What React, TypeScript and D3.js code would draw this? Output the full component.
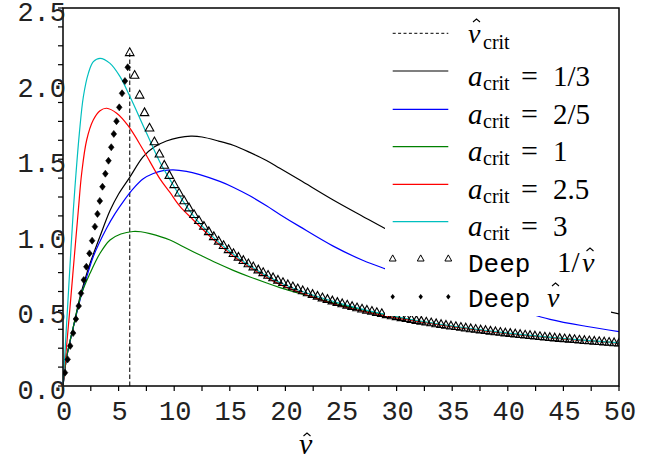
import React from "react";
import * as d3 from "d3";

const xTicks = [0, 5, 10, 15, 20, 25, 30, 35, 40, 45, 50];
const yTicks = [0, 0.5, 1.0, 1.5, 2.0, 2.5];
const yTickLabels = ["0.0", "0.5", "1.0", "1.5", "2.0", "2.5"];

const nuCrit = 6.0;
const nuCritTop = 2.2;

const blackPts: [number, number][] = [[0,0],[0.33,0.19],[0.93,0.39],[1.53,0.59],[2.0,0.71],[2.43,0.81],[3.33,0.99],[4.23,1.16],[5.0,1.27],[6.0,1.38],[7.2,1.515],[8.2,1.58],[9.3,1.62],[10.4,1.643],[11.5,1.652],[12.5,1.647],[14.0,1.62],[15.3,1.592],[16.8,1.545],[18.3,1.492],[19.5,1.44],[21.3,1.362],[24.3,1.23],[27.0,1.12],[29.0,1.04],[33,0.89],[37,0.76],[41,0.655],[45,0.565],[50,0.477]];
const bluePts: [number, number][] = [[0,0],[0.33,0.19],[0.93,0.39],[1.68,0.61],[2.13,0.72],[2.72,0.855],[3.93,1.045],[4.68,1.14],[5.42,1.22],[6.32,1.305],[7.22,1.37],[8.12,1.405],[9.0,1.424],[9.9,1.43],[11.1,1.42],[12.3,1.398],[14.1,1.353],[15.3,1.315],[16.8,1.258],[18.3,1.192],[19.5,1.135],[21.3,1.054],[24.3,0.925],[27,0.83],[29,0.775],[32,0.70],[35,0.63],[38,0.565],[41,0.50],[43.8,0.441],[47,0.395],[50,0.36]];
const greenPts: [number, number][] = [[0,0],[0.33,0.194],[0.93,0.392],[1.68,0.613],[2.43,0.745],[3.33,0.878],[4.23,0.966],[5.2,1.005],[6.3,1.022],[7.0,1.02],[7.82,1.008],[9.62,0.966],[10.82,0.921],[12.32,0.866],[13.82,0.813],[15.31,0.765],[16.82,0.721],[18.32,0.681],[19.51,0.651],[21.31,0.612],[25,0.537],[30,0.455],[35,0.394],[40,0.348],[45,0.313],[50,0.285]];
const redPts: [number, number][] = [[0,0],[0.63,0.52],[1.0,0.84],[1.38,1.164],[1.68,1.407],[2.13,1.627],[2.72,1.759],[3.33,1.821],[3.93,1.837],[4.83,1.804],[5.87,1.72],[7.22,1.561],[8.72,1.37],[9.62,1.28],[10.5,1.19],[11.72,1.098],[13.5,0.97],[15.31,0.86],[17,0.777],[19.5,0.672],[22,0.60],[25,0.528],[30,0.45],[35,0.393],[40,0.347],[45,0.312],[50,0.284]];
const cyanPts: [number, number][] = [[0,0],[0.3,0.38],[0.6,0.76],[0.93,1.164],[1.17,1.407],[1.47,1.671],[1.83,1.913],[2.28,2.068],[2.73,2.145],[3.33,2.167],[4.23,2.134],[5.13,2.046],[6.03,1.913],[7.53,1.67],[8.72,1.48],[9.62,1.365],[10.82,1.22],[12,1.10],[13.5,0.985],[15,0.89],[17,0.785],[20,0.668],[25,0.545],[30,0.458],[35,0.397],[40,0.35],[45,0.314],[50,0.285]];

const triX = [6.00,6.44,6.89,7.33,7.78,8.22,8.67,9.11,9.56,10.00,10.44,10.89,11.33,11.78,12.22,12.67,13.11,13.56,14.00,14.44,14.89,15.33,15.78,16.22,16.67,17.11,17.56,18.00,18.44,18.89,19.33,19.78,20.22,20.67,21.11,21.56,22.00,22.44,22.89,23.33,23.78,24.22,24.67,25.11,25.56,26.00,26.44,26.89,27.33,27.78,28.22,28.67,29.11,29.56,30.00,30.44,30.89,31.33,31.78,32.22,32.67,33.11,33.56,34.00,34.44,34.89,35.33,35.78,36.22,36.67,37.11,37.56,38.00,38.44,38.89,39.33,39.78,40.22,40.67,41.11,41.56,42.00,42.44,42.89,43.33,43.78,44.22,44.67,45.11,45.56,46.00,46.44,46.89,47.33,47.78,48.22,48.67,49.11,49.56,50.00];
const triY = [2.208,2.058,1.927,1.811,1.709,1.618,1.537,1.463,1.396,1.335,1.279,1.228,1.181,1.137,1.097,1.059,1.024,0.991,0.961,0.932,0.905,0.879,0.855,0.833,0.811,0.791,0.771,0.753,0.735,0.719,0.703,0.687,0.673,0.659,0.646,0.633,0.620,0.609,0.597,0.586,0.576,0.566,0.556,0.547,0.538,0.529,0.520,0.512,0.504,0.497,0.489,0.482,0.475,0.468,0.462,0.455,0.449,0.443,0.437,0.432,0.426,0.421,0.415,0.410,0.405,0.400,0.396,0.391,0.387,0.382,0.378,0.374,0.370,0.366,0.362,0.358,0.354,0.351,0.347,0.344,0.340,0.337,0.334,0.330,0.327,0.324,0.321,0.318,0.315,0.313,0.310,0.307,0.304,0.302,0.299,0.297,0.294,0.292,0.289,0.287];

const diaX = [0.18,0.42,0.65,0.91,1.16,1.41,1.62,1.87,2.10,2.38,2.62,2.87,3.10,3.31,3.55,3.81,4.09,4.34,4.57,4.81,5.06,5.31,5.57,5.82];
const diaY = [0.088,0.176,0.265,0.350,0.443,0.529,0.613,0.701,0.789,0.877,0.961,1.054,1.138,1.224,1.318,1.404,1.490,1.579,1.667,1.751,1.843,1.936,2.017,2.108];

const curveSeries = [
  { pts: blackPts, color: "#000000", label: "1/3" },
  { pts: bluePts, color: "#0000ff", label: "2/5" },
  { pts: greenPts, color: "#008000", label: "1" },
  { pts: redPts, color: "#ff0000", label: "2.5" },
  { pts: cyanPts, color: "#00bfbf", label: "3" },
];

const W = 660, H = 464;
const L = 63, R = 619, T = 8, B = 386;

const tri = (cx: number, cy: number, s: number) =>
  `M${cx},${cy - s}L${cx + s * 1.0},${cy + s * 0.8}L${cx - s * 1.0},${cy + s * 0.8}Z`;
const dia = (cx: number, cy: number, w: number, h: number) =>
  `M${cx},${cy - h}L${cx + w},${cy}L${cx},${cy + h}L${cx - w},${cy}Z`;

const Hat = ({ x, y }: { x: number; y: number }) => (
  <path d={`M${x - 3.5},${y + 3}L${x},${y}L${x + 3.5},${y + 3}`} fill="none" stroke="#000" strokeWidth={1.1} />
);

export default function App() {
  const x = d3.scaleLinear().domain([0, 50]).range([L, R]);
  const y = d3.scaleLinear().domain([0, 2.5]).range([B, T]);
  const line = d3.line<[number, number]>().x(d => x(d[0])).y(d => y(d[1])).curve(d3.curveCatmullRom.alpha(0.5));
  const xMinor = d3.range(0, 50.01, 2.5);
  const yMinor = d3.range(0, 2.501, 0.125);

  const legX0 = 392.7, legX1 = 448.3, legXm = 420.7;
  const rowY = [33.3, 71, 109.3, 146.7, 184.3, 221.7, 258.3, 296.7];
  const serif = "'Liberation Serif', 'DejaVu Serif', serif";
  const mono = "'Liberation Mono', 'DejaVu Sans Mono', monospace";

  return (
    <svg width={W} height={H} style={{ position: "fixed", left: 0, top: 0, background: "#fff" }}>
      <defs>
        <clipPath id="plot"><rect x={L} y={T} width={R - L} height={B - T} /></clipPath>
      </defs>
      <rect x={0} y={0} width={W} height={H} fill="#fff" />
      <g clipPath="url(#plot)">
        <line x1={x(nuCrit)} x2={x(nuCrit)} y1={y(0)} y2={y(nuCritTop)} stroke="#222" strokeWidth={1.2} strokeDasharray="4.5,2.5" />
        {curveSeries.map((s, i) => (
          <path key={i} d={line(s.pts) || ""} fill="none" stroke={s.color} strokeWidth={1.2} />
        ))}
        {triX.map((tx, i) => (
          <path key={"t" + i} d={tri(x(tx), y(triY[i]), 4.3)} fill="none" stroke="#000" strokeWidth={1.1} />
        ))}
        {diaX.map((dx, i) => (
          <path key={"d" + i} d={dia(x(dx), y(diaY[i]), 2.8, 3.5)} fill="#000" stroke="#000" strokeWidth={0.6} />
        ))}
      </g>
      {/* legend */}
      <rect x={385} y={9} width={226} height={307} fill="#fff" />
      <line x1={legX0} x2={legX1} y1={rowY[0]} y2={rowY[0]} stroke="#000" strokeWidth={1} strokeDasharray="3,2.4" />
      <text x={468} y={43.3} fontFamily={serif} fontStyle="italic" fontSize={28}>ν</text>
      <Hat x={476.5} y={19} />
      <text x={483} y={48.5} fontFamily={serif} fontSize={20}>crit</text>
      {curveSeries.map((s, i) => {
        const ly = rowY[i + 1];
        const by = ly + 14.5;
        return (
          <g key={"lg" + i}>
            <line x1={legX0} x2={legX1} y1={ly} y2={ly} stroke={s.color} strokeWidth={1.2} />
            <text x={468} y={by} fontFamily={serif} fontStyle="italic" fontSize={29}>a</text>
            <text x={483} y={by + 4} fontFamily={serif} fontSize={20}>crit</text>
            <text x={521} y={by} fontFamily={serif} fontSize={30}>=</text>
            <text x={553} y={by} fontFamily={serif} fontSize={29}>{s.label}</text>
          </g>
        );
      })}
      {[legX0, legXm, legX1].map((lx, i) => (
        <path key={"lt" + i} d={tri(lx, rowY[6], 3.4)} fill="none" stroke="#000" strokeWidth={1} />
      ))}
      <text x={468} y={271.7} fontFamily={mono} fontSize={26}>Deep</text>
      <text x={557} y={271.7} fontFamily={serif} fontSize={29}>1/</text>
      <text x={582} y={271.7} fontFamily={serif} fontStyle="italic" fontSize={28}>ν</text>
      <Hat x={590} y={248} />
      {[legX0, legXm, legX1].map((lx, i) => (
        <path key={"ld" + i} d={dia(lx, rowY[7], 2.2, 2.8)} fill="#000" />
      ))}
      <text x={468} y={306.7} fontFamily={mono} fontSize={26}>Deep</text>
      <text x={547} y={306.7} fontFamily={serif} fontStyle="italic" fontSize={28}>ν</text>
      <Hat x={555.5} y={283} />

      {/* frame */}
      <rect x={L} y={T} width={R - L} height={B - T} fill="none" stroke="#000" strokeWidth={1.5} />
      {/* ticks */}
      {xMinor.map((t, i) => (
        <line key={"xt" + i} x1={x(t)} x2={x(t)} y1={B} y2={B + 5} stroke="#000" strokeWidth={1.2} />
      ))}
      {yMinor.map((t, i) => (
        <line key={"yt" + i} x1={L - 5} x2={L} y1={y(t)} y2={y(t)} stroke="#000" strokeWidth={1.2} />
      ))}
      {xTicks.map((t, i) => (
        <text key={"xl" + i} x={x(t) + 1} y={420} textAnchor="middle" fontFamily={mono} fontSize={27} fill="#222">{String(t)}</text>
      ))}
      {yTicks.map((t, i) => (
        <text key={"yl" + i} x={66} y={y(t) + 13} textAnchor="end" fontFamily={mono} fontSize={27} fill="#222">{yTickLabels[i]}</text>
      ))}
      <text x={299} y={454} fontFamily={serif} fontStyle="italic" fontSize={30}>ν</text>
      <Hat x={307} y={433} />
    </svg>
  );
}
